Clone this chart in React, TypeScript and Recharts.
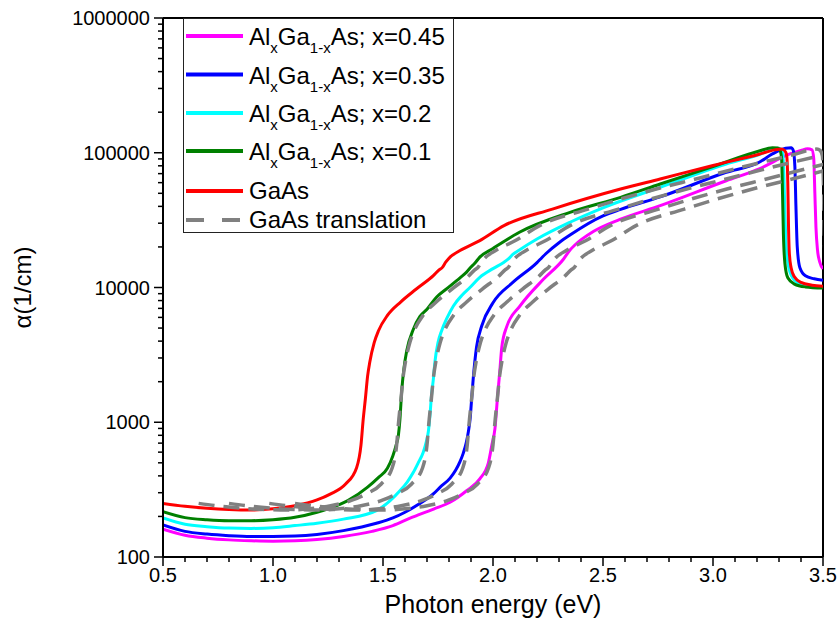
import React from 'react';
import { LineChart, Line, XAxis, YAxis, ReferenceLine, Legend } from 'recharts';

const FONT = '"Liberation Sans", Arial, Helvetica, sans-serif';

// Absorption spectra: photon energy (eV) vs absorption coefficient alpha (1/cm)
const x45Energy = [0.5, 0.6, 0.7, 0.8, 0.9, 1.0, 1.1, 1.2, 1.32, 1.45, 1.545, 1.623, 1.73, 1.805, 1.88, 1.94, 1.979, 1.995, 2.009, 2.02, 2.03, 2.04, 2.062, 2.123, 2.229, 2.32, 2.35, 2.37, 2.456, 2.577, 2.76, 3.06, 3.21, 3.35, 3.4, 3.43, 3.45, 3.458, 3.463, 3.468, 3.475, 3.485, 3.5];
const x45Alpha = [161, 145, 138, 134, 132, 131, 132, 135, 142, 155, 171, 194, 227, 255, 310, 380, 500, 680, 900, 1500, 2300, 3600, 5100, 7300, 11500, 16200, 19000, 20500, 26000, 32000, 40500, 62000, 76000, 98000, 104000, 107000, 105000, 90000, 50000, 28000, 19000, 15500, 13800];

const x35Energy = [0.5, 0.6, 0.7, 0.8, 0.9, 1.0, 1.1, 1.2, 1.32, 1.47, 1.545, 1.6, 1.66, 1.73, 1.76, 1.805, 1.83, 1.85, 1.865, 1.878, 1.888, 1.897, 1.903, 1.91, 1.925, 1.949, 2.0, 2.09, 2.2, 2.215, 2.24, 2.3, 2.35, 2.5, 2.58, 2.76, 3.06, 3.21, 3.27, 3.33, 3.355, 3.365, 3.372, 3.377, 3.383, 3.395, 3.42, 3.46, 3.5];
const x35Alpha = [173, 155, 148, 144, 142, 142, 143, 147, 157, 178, 195, 215, 245, 295, 330, 385, 440, 510, 590, 700, 850, 1100, 1500, 2100, 3600, 5200, 7700, 10900, 15300, 16200, 17800, 21500, 24500, 34000, 38000, 47000, 71600, 85000, 98000, 108000, 109000, 104000, 80000, 40000, 20000, 14000, 12200, 11600, 11300];

const x20Energy = [0.5, 0.6, 0.7, 0.8, 0.9, 1.0, 1.1, 1.2, 1.32, 1.47, 1.577, 1.61, 1.638, 1.66, 1.683, 1.697, 1.706, 1.714, 1.72, 1.729, 1.736, 1.75, 1.767, 1.79, 1.82, 1.86, 1.895, 1.94, 2.0, 2.05, 2.07, 2.09, 2.12, 2.2, 2.35, 2.5, 2.76, 3.06, 3.21, 3.28, 3.3, 3.315, 3.322, 3.327, 3.335, 3.35, 3.38, 3.43, 3.5];
const x20Alpha = [195, 175, 168, 164, 163, 165, 171, 178, 191, 221, 310, 360, 425, 500, 600, 720, 850, 1150, 1550, 2100, 2800, 3900, 4800, 5900, 7300, 8800, 10000, 11900, 13800, 15400, 16300, 17600, 19000, 22900, 30500, 39000, 55400, 82500, 97000, 107000, 108000, 102000, 70000, 35000, 18000, 13000, 11000, 10300, 10100];

const x10Energy = [0.5, 0.6, 0.7, 0.8, 0.9, 1.0, 1.1, 1.2, 1.25, 1.34, 1.43, 1.48, 1.52, 1.545, 1.56, 1.57, 1.577, 1.585, 1.595, 1.608, 1.638, 1.668, 1.7, 1.744, 1.79, 1.85, 1.88, 1.9, 1.915, 1.94, 2.0, 2.12, 2.35, 2.58, 2.76, 3.0, 3.21, 3.27, 3.295, 3.305, 3.312, 3.316, 3.32, 3.327, 3.34, 3.37, 3.42, 3.5];
const x10Alpha = [217, 196, 189, 186, 186, 189, 197, 215, 228, 262, 330, 390, 455, 565, 680, 800, 1050, 1700, 2500, 3400, 4900, 6100, 6900, 8500, 9800, 11800, 13000, 14200, 15000, 16800, 19500, 25700, 36100, 46700, 58600, 79000, 103000, 109000, 108500, 104000, 90000, 50000, 25000, 15000, 11800, 10600, 10100, 9900];

const gaasEnergy = [0.5, 0.6, 0.7, 0.8, 0.9, 1.0, 1.1, 1.2, 1.26, 1.33, 1.38, 1.4, 1.41, 1.42, 1.43, 1.44, 1.46, 1.48, 1.52, 1.58, 1.65, 1.73, 1.755, 1.77, 1.785, 1.8, 1.85, 1.94, 2.05, 2.27, 2.58, 2.76, 3.0, 3.21, 3.28, 3.31, 3.325, 3.335, 3.34, 3.343, 3.347, 3.355, 3.37, 3.4, 3.45, 3.5];
const gaasAlpha = [250, 238, 230, 225, 223, 228, 240, 265, 293, 348, 460, 680, 1050, 1500, 2200, 2800, 3900, 4800, 6200, 7800, 9700, 12300, 13500, 14100, 15400, 16500, 18800, 22300, 28800, 38200, 53800, 63900, 80500, 97500, 105000, 106500, 104000, 95000, 60000, 30000, 18000, 14000, 12000, 10900, 10400, 10200];

// Energy offsets of the translated GaAs spectra (eV)
const translationShifts = [0.162, 0.3, 0.483, 0.6];

const alloyCompositions = ['0.45', '0.35', '0.2', '0.1'];
const alloyColors = ['#FF00FF', '#0000FF', '#00FFFF', '#008000'];
const gaasColor = '#FF0000';
const translationColor = '#808080';
const gaasLabel = 'GaAs';
const translationLabel = 'GaAs translation';

const energyMajorTicks = [0.5, 1.0, 1.5, 2.0, 2.5, 3.0, 3.5];
const energyTicks = [0.5, 0.6, 0.7, 0.8, 0.9, 1.0, 1.1, 1.2, 1.3, 1.4, 1.5, 1.6, 1.7, 1.8, 1.9, 2.0, 2.1, 2.2, 2.3, 2.4, 2.5, 2.6, 2.7, 2.8, 2.9, 3.0, 3.1, 3.2, 3.3, 3.4, 3.5];
const alphaMajorTicks = [100, 1000, 10000, 100000, 1000000];
const alphaTicks = [
  100, 200, 300, 400, 500, 600, 700, 800, 900,
  1000, 2000, 3000, 4000, 5000, 6000, 7000, 8000, 9000,
  10000, 20000, 30000, 40000, 50000, 60000, 70000, 80000, 90000,
  100000, 200000, 300000, 400000, 500000, 600000, 700000, 800000, 900000,
  1000000,
];

const toPoints = (e: number[], a: number[]) => e.map((v, i) => ({ e: v, a: a[i] }));

const alloyData = [
  toPoints(x45Energy, x45Alpha),
  toPoints(x35Energy, x35Alpha),
  toPoints(x20Energy, x20Alpha),
  toPoints(x10Energy, x10Alpha),
];
const gaasData = toPoints(gaasEnergy, gaasAlpha);
const translatedData = translationShifts.map((s) =>
  gaasEnergy.map((v, i) => ({ e: Math.round((v + s) * 10000) / 10000, a: gaasAlpha[i] }))
);

const isMajor = (list: number[], v: number) => list.some((t) => Math.abs(t - v) < 1e-9);

const EnergyTick = (props: any) => {
  const { x, y, payload } = props;
  const v = payload.value as number;
  const major = isMajor(energyMajorTicks, v);
  return (
    <g>
      <line x1={x} x2={x} y1={y} y2={y + (major ? 9 : 5)} stroke="#000" strokeWidth={1.5} />
      {major && (
        <text x={x} y={y + 25} textAnchor="middle" fontSize={20} fontFamily={FONT} fill="#000">
          {v.toFixed(1)}
        </text>
      )}
    </g>
  );
};

const AlphaTick = (props: any) => {
  const { x, y, payload } = props;
  const v = payload.value as number;
  const major = isMajor(alphaMajorTicks, v);
  return (
    <g>
      <line x1={x - (major ? 9 : 5)} x2={x} y1={y} y2={y} stroke="#000" strokeWidth={1.5} />
      {major && (
        <text x={x - 13} y={y + 7} textAnchor="end" fontSize={20} fontFamily={FONT} fill="#000">
          {String(v)}
        </text>
      )}
    </g>
  );
};

const XTitle = (props: any) => {
  const vb = props.viewBox;
  return (
    <text x={vb.x + vb.width / 2} y={vb.y + 56} textAnchor="middle" fontSize={25} fontFamily={FONT} fill="#000">
      Photon energy (eV)
    </text>
  );
};

const YTitle = (props: any) => {
  const vb = props.viewBox;
  const cx = vb.x + 22;
  const cy = vb.y + vb.height / 2;
  return (
    <text
      x={cx}
      y={cy}
      textAnchor="middle"
      dominantBaseline="central"
      transform={`rotate(-90 ${cx} ${cy})`}
      fontSize={24}
      fontFamily={FONT}
      fill="#000"
    >
      α(1/cm)
    </text>
  );
};

const LegendBox = () => {
  const rowBaselines = [27, 65.5, 104, 142, 181, 210];
  const sub = { fontSize: 15 };
  return (
    <svg width={271} height={215} style={{ display: 'block', overflow: 'visible' }}>
      <rect x={0.5} y={0.5} width={270} height={214} fill="none" stroke="#222" strokeWidth={1} />
      {alloyCompositions.map((c, i) => (
        <g key={c}>
          <line x1={3} x2={60} y1={rowBaselines[i] - 9} y2={rowBaselines[i] - 9} stroke={alloyColors[i]} strokeWidth={4} />
          <text x={66} y={rowBaselines[i]} fontSize={24} fontFamily={FONT} fill="#000">
            Al
            <tspan dy={8} {...sub}>x</tspan>
            <tspan dy={-8}>Ga</tspan>
            <tspan dy={8} {...sub}>1-x</tspan>
            <tspan dy={-8}>{`As; x=${c}`}</tspan>
          </text>
        </g>
      ))}
      <line x1={3} x2={60} y1={rowBaselines[4] - 8} y2={rowBaselines[4] - 8} stroke={gaasColor} strokeWidth={4} />
      <text x={66} y={rowBaselines[4]} fontSize={24} fontFamily={FONT} fill="#000">{gaasLabel}</text>
      <line x1={3} x2={60} y1={rowBaselines[5] - 8} y2={rowBaselines[5] - 8} stroke={translationColor} strokeWidth={4} strokeDasharray="18 18" />
      <text x={66} y={rowBaselines[5]} fontSize={24} fontFamily={FONT} fill="#000">{translationLabel}</text>
    </svg>
  );
};

export default function App() {
  return (
    <div style={{ position: 'absolute', left: 0, top: 0, width: 838, height: 637, background: '#fff', fontFamily: FONT }}>
      <LineChart width={838} height={637} margin={{ top: 18, right: 15, bottom: 0, left: 0 }}>
        <XAxis
          type="number"
          dataKey="e"
          domain={[0.5, 3.5]}
          ticks={energyTicks}
          interval={0}
          allowDataOverflow
          height={80}
          tickSize={0}
          tickMargin={0}
          tickLine={false}
          tick={<EnergyTick />}
          axisLine={{ stroke: '#000', strokeWidth: 2 }}
          label={XTitle}
        />
        <YAxis
          type="number"
          dataKey="a"
          scale="log"
          domain={[100, 1000000]}
          ticks={alphaTicks}
          interval={0}
          allowDataOverflow
          width={163}
          tickSize={0}
          tickMargin={0}
          tickLine={false}
          tick={<AlphaTick />}
          axisLine={{ stroke: '#000', strokeWidth: 2 }}
          label={YTitle}
        />
        <ReferenceLine y={1000000} stroke="#000" strokeWidth={2} />
        <ReferenceLine x={3.5} stroke="#000" strokeWidth={2} />
        {alloyData.map((d, i) => (
          <Line
            key={alloyCompositions[i]}
            data={d}
            dataKey="a"
            type="monotone"
            stroke={alloyColors[i]}
            strokeWidth={3}
            dot={false}
            activeDot={false}
            isAnimationActive={false}
          />
        ))}
        <Line data={gaasData} dataKey="a" type="monotone" stroke={gaasColor} strokeWidth={3} dot={false} activeDot={false} isAnimationActive={false} />
        {translatedData.map((d, i) => (
          <Line
            key={`t${i}`}
            data={d}
            dataKey="a"
            type="monotone"
            stroke={translationColor}
            strokeWidth={3.5}
            strokeDasharray="16 9"
            dot={false}
            activeDot={false}
            isAnimationActive={false}
          />
        ))}
        <Legend
          layout="vertical"
          align="center"
          verticalAlign="middle"
          wrapperStyle={{ left: 183, top: 18, width: 271, height: 215 }}
          content={() => <LegendBox />}
        />
      </LineChart>
    </div>
  );
}
